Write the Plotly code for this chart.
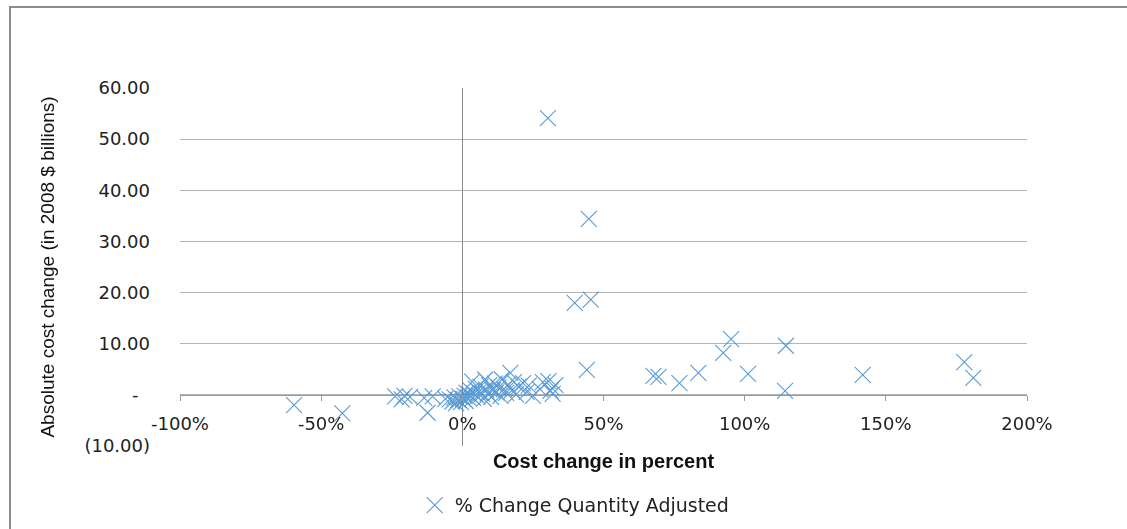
import plotly.graph_objects as go

# Cost change in percent (x) and absolute cost change in 2008 $ billions (y)
pct_change = [
    -59.6, -42.5, -23.8, -21.5, -20.5, -18.5, -13.5, -12.3, -10.5, -6.0,
    -4.5, -3.5, -2.8, -2.2, -1.5, -1.0, -0.5, 0.3, 0.8,
    1.2, 1.5, 2.0, 2.5, 3.0, 3.5, 3.8, 4.2, 4.8, 5.3,
    5.9, 6.4, 7.0, 7.6, 8.1, 8.5, 9.0, 9.5, 10.2, 10.8,
    11.5, 12.0, 12.8, 13.5, 14.0, 14.8, 15.5, 16.2, 17.0, 17.6,
    18.3, 19.0, 20.0, 21.5, 22.8, 23.5, 25.0, 27.5, 28.5, 30.3,
    30.5, 31.2, 31.8, 32.0, 33.0, 39.8, 44.1, 44.8, 45.5,
    67.7, 69.5, 76.9, 83.6, 92.4, 95.2, 101.2, 114.6, 114.3,
    141.8, 177.8, 181.0,
]
abs_change = [
    -2.0, -3.6, -0.3, -0.9, -0.2, -0.4, -0.6, -3.5, -0.3, -0.8,
    -0.9, -1.3, -0.5, -1.6, -1.0, -0.3, -1.4, -0.8, -0.2,
    -1.2, 0.4, -0.5, 0.1, 0.8, 2.6, -0.6, 0.3, 1.2, -0.3,
    0.6, 1.6, 0.2, -0.8, 3.0, 1.0, 0.3, 1.9, -0.4, 0.9,
    2.2, 0.5, 1.4, -0.2, 3.0, 1.1, 0.4, 2.0, 4.3, 0.9,
    2.5, 0.1, 1.6, 2.3, 0.6, 1.8, -0.2, 1.1, 2.5, 54.1,
    2.7, 0.8, 1.3, 0.2, 1.9, 18.0, 4.9, 34.4, 18.6,
    3.7, 3.5, 2.3, 4.3, 8.2, 10.9, 4.1, 9.6, 0.8,
    3.9, 6.4, 3.3,
]

series_name = "% Change Quantity Adjusted"
x_tick_vals = [-100, -50, 0, 50, 100, 150, 200]
x_tick_text = ["-100%", "-50%", "0%", "50%", "100%", "150%", "200%"]
y_tick_vals = [-10, 0, 10, 20, 30, 40, 50, 60]
y_tick_text = ["(10.00)", "-\u00a0\u00a0", "10.00", "20.00", "30.00", "40.00", "50.00", "60.00"]

BLUE = "#3B8AD0"
TICK_FONT = dict(family="DejaVu Sans, Verdana, sans-serif", size=18, color="#222")

fig = go.Figure()
fig.add_trace(go.Scatter(
    x=pct_change, y=abs_change, mode="markers", name=series_name,
    marker=dict(symbol="x-thin", size=16, color=BLUE,
                line=dict(color=BLUE, width=1.1)),
    opacity=0.85,
))

fig.update_layout(
    width=1127, height=529,
    margin=dict(l=180, r=100, t=88, b=83, autoexpand=False),
    paper_bgcolor="white", plot_bgcolor="white",
    showlegend=True,
    legend=dict(orientation="h", x=0.466, xanchor="center",
                yref="container", y=0.045, yanchor="middle",
                font=dict(family="DejaVu Sans, Verdana, sans-serif", size=19, color="#222"),
                itemwidth=30),
    xaxis=dict(
        range=[-100, 200], tickvals=x_tick_vals, ticktext=x_tick_text,
        anchor="free", position=1/7,
        showgrid=False, showline=True, linecolor="#9A9A9A", linewidth=1,
        ticks="outside", ticklen=5, tickcolor="#9A9A9A",
        ticklabelstandoff=8,
        zeroline=True, zerolinecolor="#8A8A8A", zerolinewidth=1,
        tickfont=TICK_FONT,
        title=dict(text="<b>Cost change in percent</b>", standoff=20,
                   font=dict(family="Liberation Sans, Arial, sans-serif", size=20, color="#111")),
    ),
    yaxis=dict(
        range=[-10, 60], tickvals=y_tick_vals, ticktext=y_tick_text,
        showgrid=True, gridcolor="#B4B4B4", gridwidth=1,
        zeroline=False, showline=False,
        ticks="", ticklabelstandoff=29,
        tickfont=TICK_FONT,
        title=dict(text="Absolute cost change (in 2008 $ billions)", standoff=24,
                   font=dict(family="Liberation Sans Narrow, Arial Narrow, sans-serif", size=19, color="#111")),
    ),
    shapes=[
        dict(type="path", xref="paper", yref="paper",
             path="M -0.2007,-0.3 L -0.2007,1.2263 L 1.2,1.2263",
             line=dict(color="#8C8C8C", width=2)),
    ],
)

fig.write_html("out.html", config={"displayModeBar": False},
               post_script="document.body.style.margin='0';")
